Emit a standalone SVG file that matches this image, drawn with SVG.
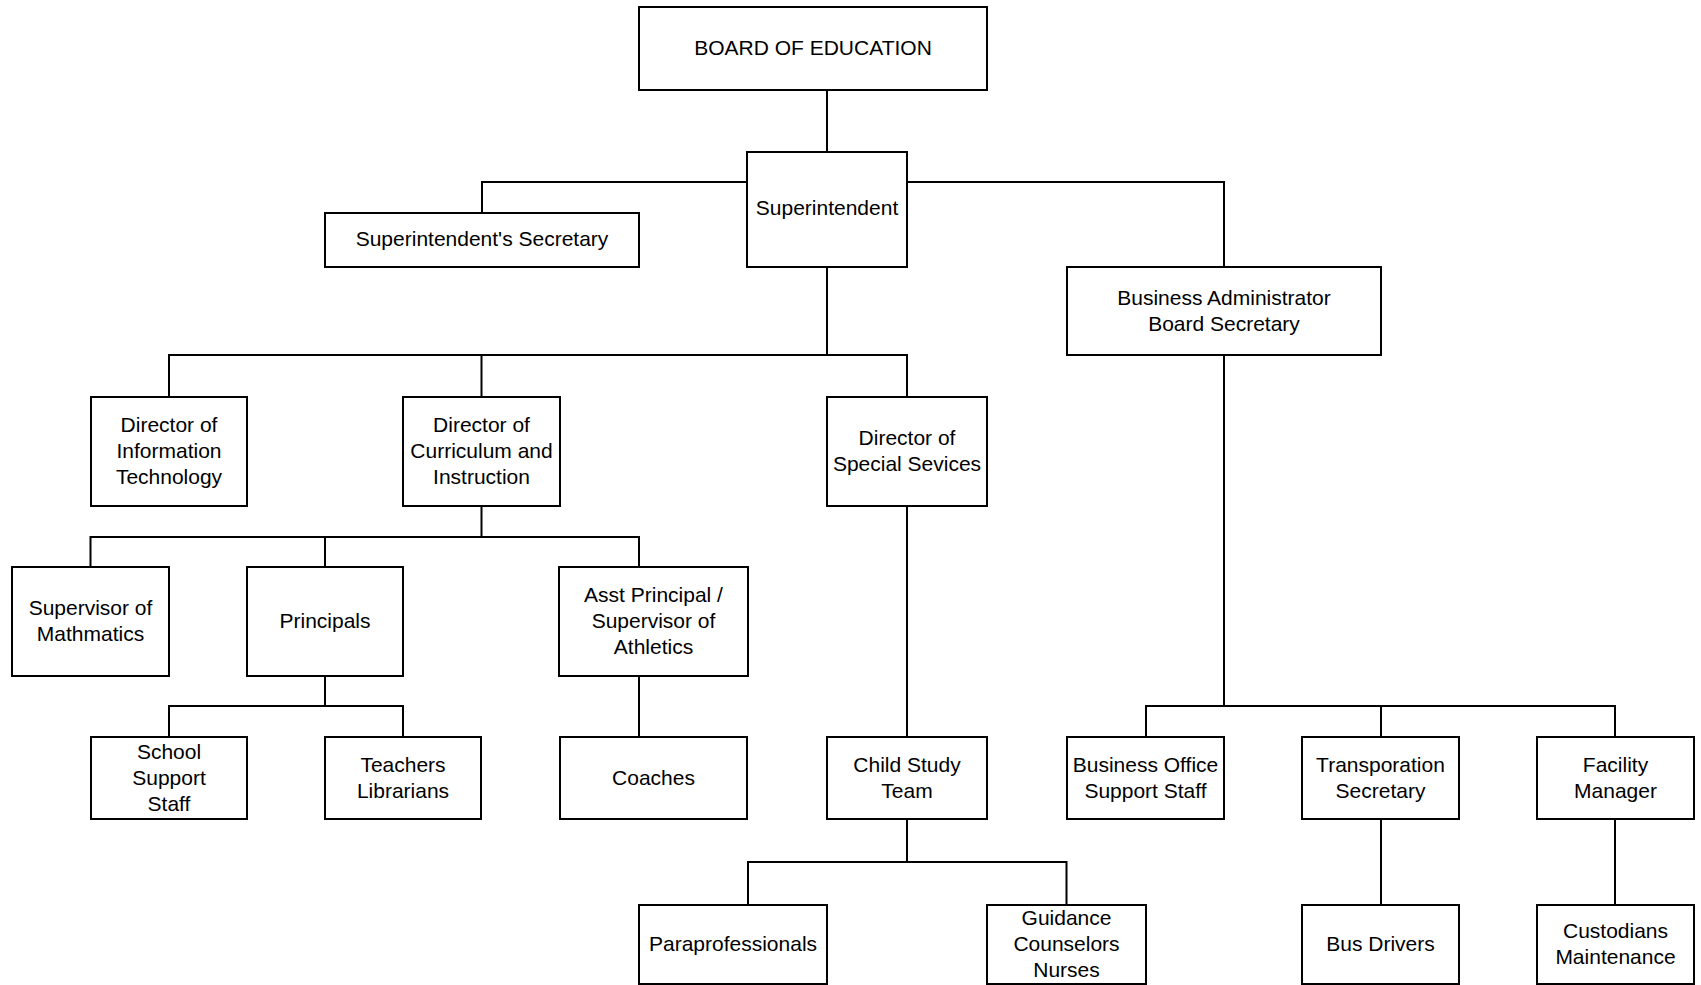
<svg xmlns="http://www.w3.org/2000/svg" width="1701" height="985" viewBox="0 0 1701 985">
<style>
rect.n{fill:#ffffff;stroke:#000000;stroke-width:2}
text{font-family:"Liberation Sans",Arial,sans-serif;font-size:21px;fill:#000000;text-anchor:middle}
#connectors path{fill:none;stroke:#000000;stroke-width:2}
</style>
<rect width="1701" height="985" fill="#ffffff"/>
<g id="connectors">
<path d="M827 90 V152"/>
<path d="M747 182 H482 V213"/>
<path d="M907 182 H1224 V267"/>
<path d="M827 267 V355"/>
<path d="M169 397 V355 H907 V397"/>
<path d="M481.5 355 V397"/>
<path d="M481.5 506 V537"/>
<path d="M90.5 567 V537 H639 V567"/>
<path d="M325 537 V567"/>
<path d="M325 676 V706"/>
<path d="M169 737 V706 H403 V737"/>
<path d="M639 676 V737"/>
<path d="M907 506 V737"/>
<path d="M907 819 V862"/>
<path d="M748 905 V862 H1066.5 V905"/>
<path d="M1224 355 V706"/>
<path d="M1146 737 V706 H1615 V737"/>
<path d="M1381 706 V737"/>
<path d="M1381 819 V905"/>
<path d="M1615 819 V905"/>
</g>
<g id="board"><rect class="n" x="639" y="7" width="348" height="83"/><text x="813" y="55">BOARD OF EDUCATION</text></g>
<g id="superintendent"><rect class="n" x="747" y="152" width="160" height="115"/><text x="827" y="215">Superintendent</text></g>
<g id="secretary"><rect class="n" x="325" y="213" width="314" height="54"/><text x="482" y="246">Superintendent's Secretary</text></g>
<g id="business-admin"><rect class="n" x="1067" y="267" width="314" height="88"/><text x="1224" y="304.5">Business Administrator</text><text x="1224" y="330.5">Board Secretary</text></g>
<g id="dir-it"><rect class="n" x="91" y="397" width="156" height="109"/><text x="169" y="431.5">Director of</text><text x="169" y="457.5">Information</text><text x="169" y="483.5">Technology</text></g>
<g id="dir-ci"><rect class="n" x="403" y="397" width="157" height="109"/><text x="481.5" y="431.5">Director of</text><text x="481.5" y="457.5">Curriculum and</text><text x="481.5" y="483.5">Instruction</text></g>
<g id="dir-ss"><rect class="n" x="827" y="397" width="160" height="109"/><text x="907" y="444.5">Director of</text><text x="907" y="470.5">Special Sevices</text></g>
<g id="sup-math"><rect class="n" x="12" y="567" width="157" height="109"/><text x="90.5" y="615">Supervisor of</text><text x="90.5" y="641">Mathmatics</text></g>
<g id="principals"><rect class="n" x="247" y="567" width="156" height="109"/><text x="325" y="628">Principals</text></g>
<g id="asst-principal"><rect class="n" x="559" y="567" width="189" height="109"/><text x="653.5" y="602">Asst Principal /</text><text x="653.5" y="628">Supervisor of</text><text x="653.5" y="654">Athletics</text></g>
<g id="school-support"><rect class="n" x="91" y="737" width="156" height="82"/><text x="169" y="758.5">School</text><text x="169" y="784.5">Support</text><text x="169" y="810.5">Staff</text></g>
<g id="teachers"><rect class="n" x="325" y="737" width="156" height="82"/><text x="403" y="771.5">Teachers</text><text x="403" y="797.5">Librarians</text></g>
<g id="coaches"><rect class="n" x="560" y="737" width="187" height="82"/><text x="653.5" y="784.5">Coaches</text></g>
<g id="cst"><rect class="n" x="827" y="737" width="160" height="82"/><text x="907" y="771.5">Child Study</text><text x="907" y="797.5">Team</text></g>
<g id="bos"><rect class="n" x="1067" y="737" width="157" height="82"/><text x="1145.5" y="771.5">Business Office</text><text x="1145.5" y="797.5">Support Staff</text></g>
<g id="transportation"><rect class="n" x="1302" y="737" width="157" height="82"/><text x="1380.5" y="771.5">Transporation</text><text x="1380.5" y="797.5">Secretary</text></g>
<g id="facility"><rect class="n" x="1537" y="737" width="157" height="82"/><text x="1615.5" y="771.5">Facility</text><text x="1615.5" y="797.5">Manager</text></g>
<g id="para"><rect class="n" x="639" y="905" width="188" height="79"/><text x="733" y="951">Paraprofessionals</text></g>
<g id="guidance"><rect class="n" x="987" y="905" width="159" height="79"/><text x="1066.5" y="925">Guidance</text><text x="1066.5" y="951">Counselors</text><text x="1066.5" y="977">Nurses</text></g>
<g id="bus"><rect class="n" x="1302" y="905" width="157" height="79"/><text x="1380.5" y="951">Bus Drivers</text></g>
<g id="custodians"><rect class="n" x="1537" y="905" width="157" height="79"/><text x="1615.5" y="938">Custodians</text><text x="1615.5" y="964">Maintenance</text></g>
</svg>
